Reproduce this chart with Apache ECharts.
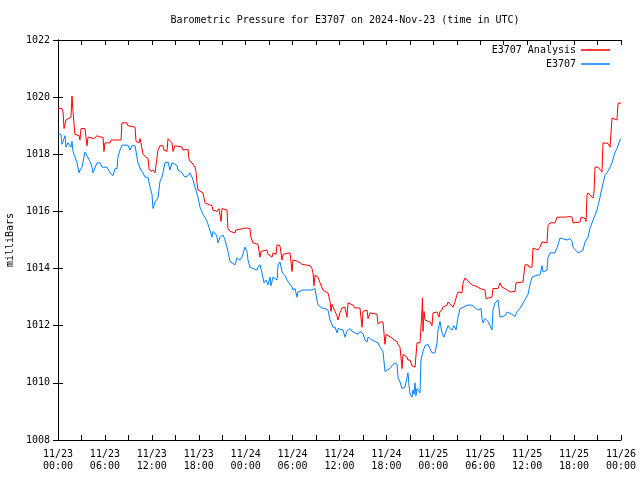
<!DOCTYPE html>
<html>
<head>
<meta charset="utf-8">
<script src="https://cdn.jsdelivr.net/npm/echarts@6/dist/echarts.min.js"></script>
<style>html,body{margin:0;padding:0;background:#fff}#c{width:640px;height:480px}</style>
</head>
<body>
<div id="c"></div>
<script>
// Hours since 2024-11-23 00:00 UTC
const xTickLabels = ["11/23\n00:00","11/23\n06:00","11/23\n12:00","11/23\n18:00","11/24\n00:00","11/24\n06:00","11/24\n12:00","11/24\n18:00","11/25\n00:00","11/25\n06:00","11/25\n12:00","11/25\n18:00","11/26\n00:00"];

const analysisHours = [0,0.51,0.64,0.77,0.90,1.02,1.15,1.66,1.79,1.92,2.05,2.17,2.69,2.81,2.94,3.45,3.58,3.71,3.84,4.60,4.99,5.37,5.76,5.88,6.01,6.65,6.78,8.06,8.18,8.82,8.95,9.85,9.98,10.36,10.49,10.61,10.74,10.87,11.25,11.51,11.64,11.89,12.15,12.41,12.66,12.79,13.04,13.43,13.56,13.94,14.07,14.32,14.58,14.71,14.96,15.86,15.99,16.63,16.75,16.88,17.14,17.52,17.65,17.78,17.90,18.54,18.80,19.18,19.69,19.82,20.33,20.59,20.85,20.97,21.61,21.74,22.00,22.64,22.76,24.04,24.55,24.68,24.94,25.58,25.83,25.96,26.73,26.86,27.37,27.50,27.88,28.01,28.39,28.65,28.78,29.03,29.67,29.93,30.05,30.69,31.21,31.33,32.23,32.48,32.61,32.74,32.87,33.25,33.51,33.89,34.15,34.53,34.79,34.91,35.04,35.43,35.68,35.81,36.06,36.32,36.70,36.96,37.09,37.73,37.98,38.62,38.88,39.01,39.52,39.65,39.90,40.80,40.93,41.18,41.56,41.82,41.95,42.71,42.84,43.36,43.48,43.74,44.00,44.12,44.63,44.76,45.02,45.27,45.66,45.91,46.30,46.55,46.61,46.68,46.81,46.94,47.19,47.57,47.83,47.96,48.47,48.60,48.73,48.85,49.11,49.24,49.75,49.88,50.13,50.52,50.77,51.03,51.16,51.67,51.80,52.05,52.31,52.43,52.69,52.95,53.71,53.97,54.61,54.74,54.99,55.50,55.63,56.27,56.53,56.78,57.17,57.42,57.81,58.45,58.57,59.47,59.72,60.11,60.24,60.62,60.75,61.39,61.51,61.64,61.90,62.54,62.67,62.92,63.56,63.82,63.95,64.84,65.48,65.74,65.86,66.76,66.89,67.40,67.53,67.65,67.78,68.42,68.55,68.68,68.93,69.06,69.57,69.70,70.34,70.60,70.72,70.85,71.49,71.62,72.0];
const analysisMb = [1019.6,1019.6,1019.5,1018.9,1018.85,1019.2,1019.27,1019.3,1020.04,1019.5,1019.06,1018.7,1018.65,1018.5,1018.9,1018.9,1018.6,1018.3,1018.6,1018.55,1018.65,1018.6,1018.6,1018.1,1018.4,1018.4,1018.5,1018.5,1019.1,1019.1,1019.0,1018.95,1018.45,1018.4,1018.55,1018.4,1018.4,1018.0,1017.9,1017.85,1017.5,1017.4,1017.45,1017.35,1017.4,1018.15,1018.3,1018.3,1018.15,1018.1,1018.55,1018.5,1018.4,1018.1,1018.3,1018.25,1018.15,1018.17,1017.85,1017.75,1017.7,1017.55,1017.4,1017.0,1016.75,1016.65,1016.3,1016.25,1016.2,1016.05,1016.0,1016.1,1015.65,1016.1,1016.05,1015.4,1015.3,1015.25,1015.35,1015.42,1015.4,1015.1,1014.9,1014.85,1014.4,1014.6,1014.65,1014.5,1014.4,1014.55,1014.5,1014.83,1014.8,1014.3,1014.5,1014.55,1014.55,1013.9,1014.3,1014.25,1014.15,1014.2,1014.1,1014.0,1013.85,1013.4,1013.77,1013.7,1013.5,1013.25,1013.2,1013.15,1012.85,1012.5,1012.75,1012.5,1012.35,1012.2,1012.45,1012.62,1012.65,1012.3,1012.8,1012.72,1012.62,1012.62,1011.95,1012.5,1012.55,1012.25,1012.45,1012.4,1012.05,1012.13,1012.13,1011.35,1011.7,1011.57,1011.5,1011.43,1011.35,1011.25,1010.5,1011.0,1010.9,1010.8,1010.8,1010.6,1010.55,1011.4,1011.4,1012.55,1012.97,1011.8,1012.5,1012.2,1012.15,1012.13,1012.0,1012.45,1012.48,1012.4,1012.3,1012.5,1012.55,1012.65,1012.72,1012.83,1012.8,1012.65,1012.83,1013.1,1013.18,1013.15,1013.5,1013.67,1013.6,1013.55,1013.5,1013.43,1013.35,1013.3,1013.25,1012.95,1013.0,1013.0,1013.3,1013.3,1013.5,1013.35,1013.3,1013.25,1013.18,1013.2,1013.5,1013.53,1014.13,1014.13,1014.05,1014.05,1014.72,1014.65,1014.6,1014.75,1014.93,1014.9,1015.5,1015.6,1015.6,1015.8,1015.87,1015.8,1015.82,1015.8,1015.6,1015.63,1015.8,1015.75,1015.65,1016.57,1016.65,1016.47,1016.68,1017.55,1017.62,1017.55,1017.38,1018.4,1018.38,1018.25,1018.3,1019.27,1019.2,1019.78,1019.8];

const stationHours = [0,0.38,0.51,0.64,0.90,1.02,1.15,1.28,1.53,1.66,1.79,1.92,2.17,2.43,2.69,2.81,3.07,3.20,3.45,3.71,4.09,4.35,4.48,4.73,4.99,5.37,5.63,6.27,6.39,6.65,7.03,7.29,7.55,7.67,7.93,8.18,8.95,9.21,9.46,9.85,10.10,10.23,10.61,10.87,11.13,11.51,11.77,12.02,12.15,12.41,12.79,13.04,13.30,13.68,14.07,14.32,14.58,14.96,15.22,15.35,15.60,15.86,15.99,16.24,16.63,16.88,17.14,17.27,17.52,17.90,18.16,18.54,18.80,19.06,19.31,19.69,19.82,20.21,20.33,20.46,20.72,21.10,21.36,21.74,22.00,22.64,22.89,23.28,23.53,23.91,24.04,24.17,24.30,24.55,24.94,25.45,25.58,25.83,26.09,26.35,26.60,26.86,27.11,27.24,27.50,28.01,28.14,28.39,28.65,29.03,29.29,29.67,29.93,30.05,30.31,30.57,30.69,31.33,32.48,32.87,33.12,33.25,33.76,34.15,34.53,34.79,35.17,35.43,35.68,35.81,36.45,36.70,36.96,37.34,37.60,37.98,38.37,38.62,39.01,39.26,39.52,39.65,40.16,40.93,41.18,41.56,41.82,42.08,42.46,42.71,43.10,43.36,43.48,43.74,44.00,44.12,44.38,44.63,44.76,44.89,45.02,45.27,45.40,45.53,45.66,45.78,45.91,46.30,46.42,46.68,46.94,47.32,47.57,47.83,48.21,48.47,48.60,48.85,49.11,49.37,49.62,49.88,50.13,50.39,50.64,50.90,51.16,51.41,51.92,52.31,52.95,53.20,53.71,54.10,54.22,54.35,54.61,54.99,55.25,55.50,55.63,55.89,56.27,56.53,56.78,57.17,57.42,57.68,58.06,58.45,58.70,59.09,59.60,60.11,60.36,60.62,61.26,61.64,61.90,62.03,62.54,62.67,62.92,63.56,63.95,64.20,65.10,65.48,65.74,65.86,66.50,66.76,67.14,67.40,67.78,68.04,68.68,68.93,69.32,69.57,69.96,70.21,70.60,70.85,71.24,71.49,71.87,72.0];
const stationMb = [1018.7,1018.7,1018.35,1018.4,1018.65,1018.25,1018.25,1018.4,1018.4,1018.25,1018.45,1018.1,1018.05,1017.7,1017.35,1017.45,1017.55,1017.6,1018.08,1017.95,1017.75,1017.55,1017.35,1017.4,1017.7,1017.7,1017.55,1017.55,1017.6,1017.35,1017.25,1017.5,1017.5,1017.9,1018.15,1018.32,1018.32,1018.15,1018.3,1018.3,1017.9,1017.7,1017.45,1017.35,1017.2,1017.2,1016.85,1016.6,1016.1,1016.33,1016.47,1017.05,1017.2,1017.7,1017.73,1017.45,1017.7,1017.65,1017.6,1017.45,1017.45,1017.35,1017.28,1017.2,1017.25,1017.35,1017.2,1017.1,1016.85,1016.5,1016.15,1015.9,1015.8,1015.65,1015.45,1015.1,1015.3,1015.2,1015.1,1014.9,1015.1,1015.18,1015.0,1014.6,1014.25,1014.13,1014.37,1014.3,1014.4,1014.75,1014.8,1014.6,1014.3,1014.05,1014.0,1013.95,1014.05,1014.13,1013.85,1013.5,1013.6,1013.43,1013.7,1013.4,1013.7,1013.6,1014.13,1014.23,1013.88,1013.75,1013.6,1013.45,1013.35,1013.25,1013.3,1013.0,1013.18,1013.25,1013.25,1013.3,1012.9,1012.73,1012.62,1012.6,1012.55,1012.2,1011.95,1011.95,1011.75,1011.9,1011.85,1011.6,1011.8,1011.9,1011.8,1011.75,1011.7,1011.8,1011.72,1011.5,1011.43,1011.6,1011.5,1011.4,1011.25,1011.1,1010.4,1010.45,1010.5,1010.6,1010.7,1010.65,1010.2,1010.03,1009.8,1009.75,1009.85,1009.85,1010.35,1009.9,1009.62,1009.5,1009.75,1009.6,1010.0,1009.55,1009.8,1009.65,1010.8,1011.1,1011.3,1011.35,1011.2,1011.05,1011.05,1011.4,1011.85,1012.15,1011.75,1011.6,1011.8,1012.0,1011.9,1011.85,1012.0,1011.85,1012.3,1012.6,1012.65,1012.72,1012.72,1012.65,1012.55,1012.6,1012.25,1012.1,1012.25,1012.15,1012.0,1011.85,1012.55,1012.8,1012.9,1012.3,1012.3,1012.35,1012.48,1012.45,1012.4,1012.32,1012.5,1012.6,1012.85,1013.1,1013.43,1013.7,1013.77,1013.78,1014.1,1013.88,1013.95,1014.4,1014.55,1014.55,1014.83,1015.07,1015.0,1015.05,1014.95,1014.75,1014.55,1014.58,1014.65,1014.93,1015.1,1015.42,1015.87,1016.05,1016.5,1016.82,1017.27,1017.35,1017.55,1017.7,1018.08,1018.2,1018.5,1018.55];

const FONT = 'DejaVu Sans Mono';
const zip = (a, b) => a.map((t, i) => [t, b[i]]);

const chart = echarts.init(document.getElementById('c'), null, {renderer: 'canvas'});
const axisLineStyle = {lineStyle: {color: '#000', width: 1}};
const xBase = {
  type: 'value', min: 0, max: 72, interval: 6,
  axisLine: axisLineStyle,
  axisTick: {inside: true, length: 5, lineStyle: {color: '#000'}},
  minorTick: {show: true, splitNumber: 2, length: 5, lineStyle: {color: '#000'}},
  splitLine: {show: false}
};
const yBase = {
  type: 'value', min: 1008, max: 1022, interval: 2,
  axisLine: axisLineStyle,
  axisTick: {inside: true, length: 5, lineStyle: {color: '#000'}},
  splitLine: {show: false}
};
chart.setOption({
  animation: false,
  backgroundColor: '#fff',
  title: {
    text: 'Barometric Pressure for E3707 on 2024-Nov-23 (time in UTC)',
    left: 340, top: 10, textAlign: 'center',
    textStyle: {fontFamily: FONT, fontSize: 10, fontWeight: 'normal', color: '#000'}
  },
  legend: {
    right: 30, top: 44, orient: 'vertical', align: 'right', padding: 0,
    icon: 'rect', itemWidth: 29, itemHeight: 1.5, itemGap: 2,
    textStyle: {fontFamily: FONT, fontSize: 10, color: '#000', lineHeight: 12},
    data: ['E3707 Analysis', 'E3707']
  },
  grid: {left: 58, right: 19, top: 40, bottom: 40, containLabel: false, outerBoundsMode: 'none'},
  xAxis: [
    Object.assign({}, xBase, {
      position: 'bottom',
      axisLabel: {
        fontFamily: FONT, fontSize: 10, color: '#000', lineHeight: 12, margin: 8,
        formatter: v => xTickLabels[Math.round(v / 6)]
      }
    }),
    Object.assign({}, xBase, {position: 'top', axisLabel: {show: false}})
  ],
  yAxis: [
    Object.assign({}, yBase, {
      position: 'left',
      name: 'milliBars', nameLocation: 'middle', nameRotate: 90, nameGap: 40,
      nameTextStyle: {fontFamily: FONT, fontSize: 10, color: '#000'},
      axisLabel: {fontFamily: FONT, fontSize: 10, color: '#000', margin: 8, formatter: v => String(v)}
    }),
    Object.assign({}, yBase, {position: 'right', axisLabel: {show: false}})
  ],
  series: [
    {
      name: 'E3707 Analysis', type: 'line', symbol: 'none', showSymbol: false,
      data: zip(analysisHours, analysisMb),
      lineStyle: {color: '#ff0000', width: 1}, itemStyle: {color: '#ff0000'}
    },
    {
      name: 'E3707', type: 'line', symbol: 'none', showSymbol: false,
      data: zip(stationHours, stationMb),
      lineStyle: {color: '#0080ff', width: 1}, itemStyle: {color: '#0080ff'}
    }
  ]
});
</script>
</body>
</html>
